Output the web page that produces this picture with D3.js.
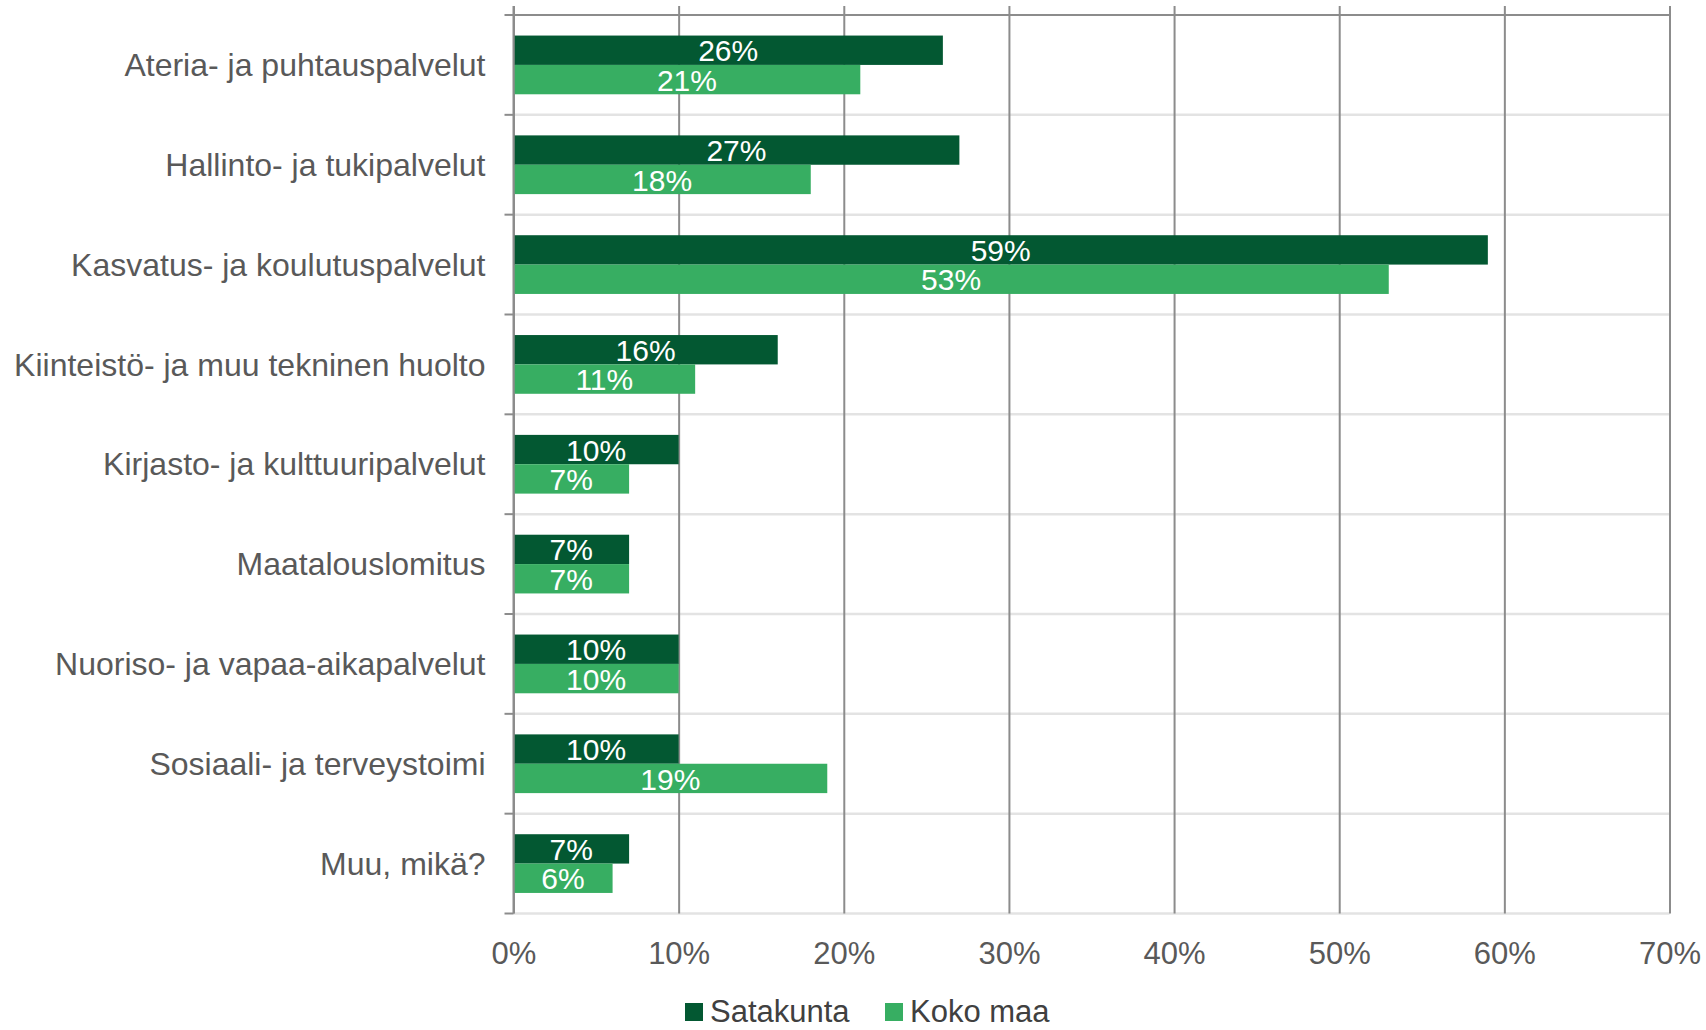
<!DOCTYPE html>
<html>
<head>
<meta charset="utf-8">
<script src="https://cdn.jsdelivr.net/npm/d3@7"></script>
<style>
  body { margin: 0; background: #fff; }
  text { font-family: "Liberation Sans", Arial, sans-serif; }
</style>
</head>
<body>
<svg id="chart"></svg>
<script>
// data
let categories = [
  'Ateria- ja puhtauspalvelut',
  'Hallinto- ja tukipalvelut',
  'Kasvatus- ja koulutuspalvelut',
  'Kiinteistö- ja muu tekninen huolto',
  'Kirjasto- ja kulttuuripalvelut',
  'Maatalouslomitus',
  'Nuoriso- ja vapaa-aikapalvelut',
  'Sosiaali- ja terveystoimi',
  'Muu, mikä?',
];
let seriesNames = ['Satakunta', 'Koko maa'];
let satakunta = [26, 27, 59, 16, 10, 7, 10, 10, 7];
let kokoMaa = [21, 18, 53, 11, 7, 7, 10, 19, 6];
let xTicks = [0, 10, 20, 30, 40, 50, 60, 70];

let colors = ['#035832', '#37ae62'];

let width = 1706;
let height = 1030;
let plotLeft = 513.5;
let plotRight = 1669.5;
let plotTop = 15;
let plotBottom = 913.5;
let fontSize = 31;

let svg = d3.select('#chart').attr('width', width).attr('height', height);

let x = d3.scaleLinear().domain([0, 70]).range([plotLeft, plotRight]);
let y = d3.scaleBand().domain(categories).range([plotTop, plotBottom]);
let ySub = d3.scaleBand().domain(seriesNames).range([0, y.bandwidth()]).paddingOuter(0.7);

let rows = categories.map((c, i) => ({
  cat: c,
  values: [satakunta[i], kokoMaa[i]],
}));

let bandEdges = categories.slice(1).map((c) => y(c)).concat([plotBottom]);

// horizontal band lines (light)
svg.selectAll('.hline')
  .data(bandEdges)
  .enter()
  .append('line')
  .attr('x1', plotLeft)
  .attr('x2', plotRight)
  .attr('y1', (d) => d)
  .attr('y2', (d) => d)
  .attr('stroke', '#e3e3e3')
  .attr('stroke-width', 2.5);

// top border line
svg.append('line')
  .attr('x1', plotLeft - 9).attr('x2', plotRight)
  .attr('y1', plotTop).attr('y2', plotTop)
  .attr('stroke', '#8c8c8c').attr('stroke-width', 2);

// left ticks at band edges
svg.selectAll('.ltick')
  .data(bandEdges)
  .enter()
  .append('line')
  .attr('x1', plotLeft - 9)
  .attr('x2', plotLeft)
  .attr('y1', (d) => d)
  .attr('y2', (d) => d)
  .attr('stroke', '#8c8c8c')
  .attr('stroke-width', 2);

// vertical gridlines via axis
let xAxis = svg.append('g')
  .attr('transform', `translate(0,${plotBottom})`)
  .call(d3.axisBottom(x).tickValues(xTicks).tickSize(-(plotBottom - 6)).tickFormat((d) => d + '%').tickPadding(28));
xAxis.select('.domain').remove();
xAxis.selectAll('line').attr('stroke', '#8c8c8c').attr('stroke-width', 2);
xAxis.selectAll('text')
  .attr('fill', '#595959')
  .style('font-size', fontSize + 'px')
  .style('font-family', '"Liberation Sans", Arial, sans-serif');

// bars
let groups = svg.selectAll('.row')
  .data(rows)
  .enter()
  .append('g')
  .attr('transform', (d) => `translate(0,${y(d.cat)})`);

groups.selectAll('rect')
  .data((d) => d.values.map((v, i) => ({ v: v, s: seriesNames[i], i: i })))
  .enter()
  .append('rect')
  .attr('x', x(0) + 1)
  .attr('y', (d) => ySub(d.s))
  .attr('width', (d) => x(d.v) - x(0) - 1)
  .attr('height', ySub.bandwidth())
  .attr('fill', (d) => colors[d.i]);

groups.selectAll('.lbl')
  .data((d) => d.values.map((v, i) => ({ v: v, s: seriesNames[i], i: i })))
  .enter()
  .append('text')
  .attr('x', (d) => (x(0) + x(d.v)) / 2)
  .attr('y', (d) => ySub(d.s) + ySub.bandwidth() / 2)
  .attr('dy', '0.37em')
  .attr('text-anchor', 'middle')
  .attr('fill', '#ffffff')
  .style('font-size', '30px')
  .text((d) => d.v + '%');

// axis line at 0
svg.append('line')
  .attr('x1', plotLeft).attr('x2', plotLeft)
  .attr('y1', 6).attr('y2', plotBottom)
  .attr('stroke', '#8c8c8c').attr('stroke-width', 2);

// category labels
svg.selectAll('.cat')
  .data(categories)
  .enter()
  .append('text')
  .attr('x', plotLeft - 28)
  .attr('y', (d) => y(d) + y.bandwidth() / 2)
  .attr('dy', '0.35em')
  .attr('text-anchor', 'end')
  .attr('fill', '#595959')
  .style('font-size', '32px')
  .text((d) => d);

// legend
let legendX = [685, 885];
let legend = svg.selectAll('.leg')
  .data(seriesNames)
  .enter()
  .append('g')
  .attr('transform', (d, i) => `translate(${legendX[i]},1003)`);
legend.append('rect')
  .attr('width', 18).attr('height', 18)
  .attr('fill', (d, i) => colors[i]);
legend.append('text')
  .attr('x', 25)
  .attr('y', 19)
  .attr('fill', '#404040')
  .style('font-size', fontSize + 'px')
  .text((d) => d);
</script>
</body>
</html>
